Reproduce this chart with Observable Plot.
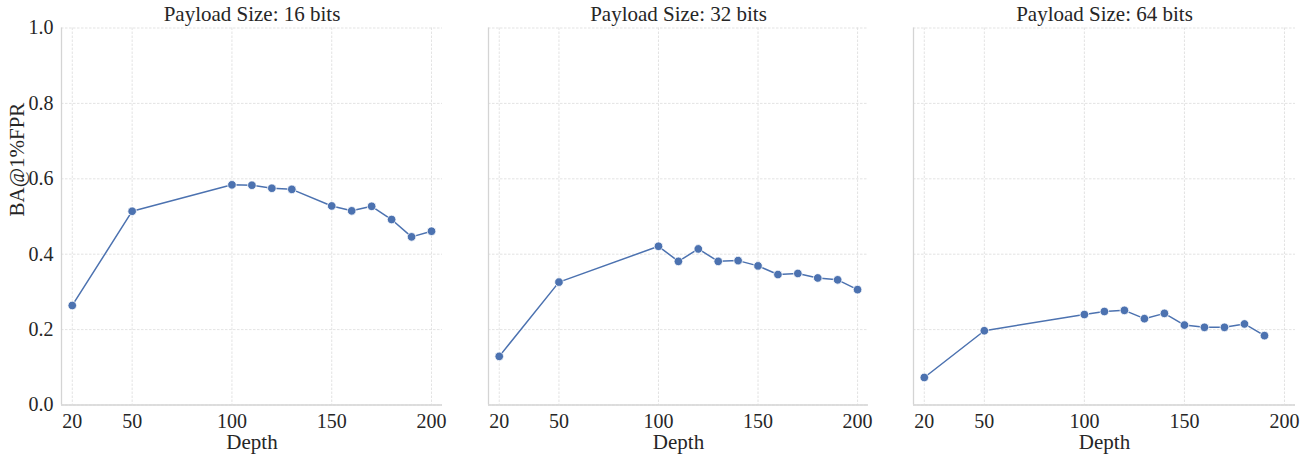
<!DOCTYPE html>
<html>
<head>
<meta charset="utf-8">
<script src="https://cdn.jsdelivr.net/npm/d3@7"></script>
<script src="https://cdn.jsdelivr.net/npm/@observablehq/plot@0.6"></script>
<style>
  html, body { margin: 0; padding: 0; background: #ffffff; }
  #chart { position: relative; width: 1307px; height: 455px; }
  #chart > svg { position: absolute; top: 0; }
</style>
</head>
<body>
<div id="chart"></div>
<script>
// ---- data ----
const panelTitles = ["Payload Size: 16 bits", "Payload Size: 32 bits", "Payload Size: 64 bits"];
const depths16 = [20, 50, 100, 110, 120, 130, 150, 160, 170, 180, 190, 200];
const ba16 = [0.264, 0.514, 0.584, 0.583, 0.575, 0.572, 0.528, 0.515, 0.527, 0.492, 0.446, 0.461];
const depths32 = [20, 50, 100, 110, 120, 130, 140, 150, 160, 170, 180, 190, 200];
const ba32 = [0.129, 0.326, 0.421, 0.381, 0.414, 0.381, 0.383, 0.369, 0.346, 0.349, 0.337, 0.332, 0.306];
const depths64 = [20, 50, 100, 110, 120, 130, 140, 150, 160, 170, 180, 190];
const ba64 = [0.073, 0.197, 0.240, 0.248, 0.251, 0.229, 0.243, 0.212, 0.206, 0.206, 0.215, 0.184];
const xTicks = [20, 50, 100, 150, 200];
const yTicks = [0, 0.2, 0.4, 0.6, 0.8, 1.0];
const xLabel = "Depth";
const yLabel = "BA@1%FPR";

// ---- style ----
const lineColor = "#4c72b0";
const gridColor = "#dcdcdc";
const spineColor = "#d4d4d4";
const textColor = "#262626";
const xDomain = [14.6, 205.5];

const series = [
  {depths: depths16, values: ba16},
  {depths: depths32, values: ba32},
  {depths: depths64, values: ba64}
];

// layout of each panel: svg left position, margins, width
const layout = [
  {left: 0,   marginLeft: 61, width: 442, marginRight: 0},
  {left: 442, marginLeft: 46, width: 426, marginRight: 0},
  {left: 868, marginLeft: 45, width: 439, marginRight: 12}
];

const chart = document.getElementById("chart");

series.forEach((s, i) => {
  const L = layout[i];
  const data = s.depths.map((d, j) => ({depth: d, ba: s.values[j]}));
  const marks = [
    Plot.gridX({ticks: xTicks, stroke: gridColor, strokeOpacity: 1, strokeWidth: 0.8, strokeDasharray: "2.5,1.5"}),
    Plot.gridY({ticks: yTicks, stroke: gridColor, strokeOpacity: 1, strokeWidth: 0.8, strokeDasharray: "2.5,1.5"}),
    Plot.ruleY([0], {stroke: spineColor, strokeWidth: 1.3}),
    Plot.ruleX([xDomain[0]], {stroke: spineColor, strokeWidth: 1.3}),
    Plot.axisX({ticks: xTicks, tickSize: 0, tickPadding: 9, label: null, fill: textColor, fontSize: 20}),
    Plot.lineY(data, {x: "depth", y: "ba", stroke: lineColor, strokeWidth: 1.5}),
    Plot.dot(data, {x: "depth", y: "ba", r: 4.3, fill: lineColor, stroke: "white", strokeWidth: 0.8}),
    Plot.text([panelTitles[i]], {frameAnchor: "top", lineAnchor: "middle", dy: -14, fontSize: 21, fill: textColor}),
    Plot.text([xLabel], {frameAnchor: "bottom", lineAnchor: "middle", dy: 37.5, fontSize: 21, fill: textColor})
  ];
  if (i === 0) {
    marks.push(Plot.axisY({ticks: yTicks, tickFormat: d3.format(".1f"), tickSize: 0, tickPadding: 8, label: null, fill: textColor, fontSize: 20}));
    marks.push(Plot.text([yLabel], {frameAnchor: "left", dx: -44, rotate: -90, fontSize: 21, fill: textColor}));
  }
  const svg = Plot.plot({
    width: L.width,
    height: 455,
    marginLeft: L.marginLeft,
    marginRight: L.marginRight,
    marginTop: 27.5,
    marginBottom: 50.5,
    x: {domain: xDomain, axis: null},
    y: {domain: [0, 1], axis: null},
    style: {fontFamily: "'Liberation Serif', 'Times New Roman', serif", fontSize: "20px", overflow: "visible", background: "transparent", color: textColor},
    marks
  });
  svg.style.left = L.left + "px";
  chart.appendChild(svg);
});
</script>
</body>
</html>
